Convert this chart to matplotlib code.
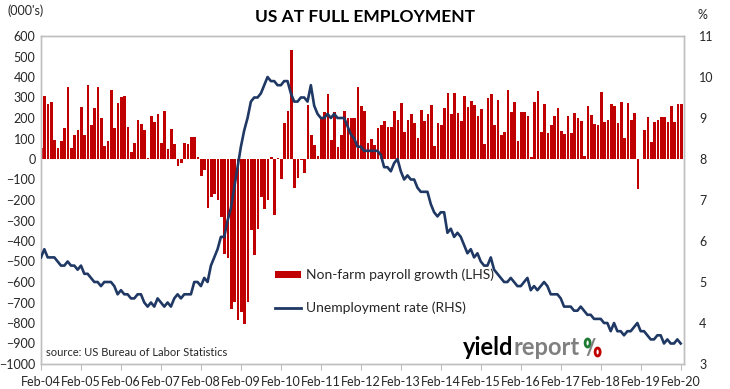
import numpy as np
import pandas as pd
import matplotlib
matplotlib.use("Agg")
import matplotlib.pyplot as plt
from matplotlib.lines import Line2D
from matplotlib.patches import Patch, Ellipse

plt.rcParams['font.family'] = ['Lato', 'DejaVu Sans']

# monthly categories, Feb-04 .. Feb-20
months = pd.date_range('2004-02-01', '2020-02-01', freq='MS')
tick_labels = [d.strftime('%b-%y') for d in months[::12]]

# non-farm payroll growth (000's)
payrolls = [
    55, 307, 268, 278, 93, 55, 88, 151, 351, 55, 117, 141,
    254, 117, 361, 166, 249, 351, 200, 63, 88, 337, 151, 273,
    302, 307, 156, 34, 78, 190, 171, 141, 5, 210, 180, 220,
    78, 234, 49, 146, 73, -34, -21, 78, 73, 107, 107, 10,
    -81, -54, -239, -184, -171, -200, -283, -463, -483, -730, -698, -785,
    -746, -805, -698, -346, -468, -341, -184, -244, -200, 10, -273, 5,
    -98, 176, 234, 532, -141, -93, -5, -68, 263, 117, 68, 15,
    205, 229, 317, 93, 229, 59, 117, 234, 200, 200, 200, 351,
    259, 234, 78, 98, 68, 151, 166, 185, 156, 156, 234, 190,
    273, 132, 190, 220, 176, 102, 239, 185, 220, 263, 63, 176,
    166, 249, 322, 220, 322, 224, 185, 307, 254, 283, 263, 210,
    244, 73, 298, 317, 166, 288, 117, 132, 337, 229, 278, 88,
    229, 229, 210, 10, 278, 332, 132, 268, 127, 166, 210, 249,
    137, 122, 210, 127, 224, 200, 185, 15, 259, 215, 171, 166,
    327, 180, 190, 268, 259, 176, 278, 102, 273, 190, 224, -146,
    1, 141, 205, 83, 180, 190, 205, 205, 180, 259, 180, 268, 268,
]

# unemployment rate (%)
unemployment = [
    5.6, 5.8, 5.6, 5.6, 5.6, 5.5, 5.4, 5.4, 5.5, 5.4, 5.4,
    5.3, 5.4, 5.2, 5.2, 5.1, 5.0, 5.0, 4.9, 5.0, 5.0, 5.0, 4.9,
    4.7, 4.8, 4.7, 4.7, 4.6, 4.6, 4.7, 4.7, 4.5, 4.4, 4.5, 4.4,
    4.6, 4.5, 4.4, 4.5, 4.4, 4.6, 4.7, 4.6, 4.7, 4.7, 4.7, 5.0,
    5.0, 4.9, 5.1, 5.0, 5.4, 5.6, 5.8, 6.1, 6.1, 6.5, 6.8, 7.3,
    7.8, 8.3, 8.7, 9.0, 9.4, 9.5, 9.5, 9.6, 9.8, 10.0, 9.9, 9.9,
    9.8, 9.8, 9.9, 9.9, 9.6, 9.4, 9.4, 9.5, 9.5, 9.4, 9.8, 9.3,
    9.1, 9.0, 9.0, 9.1, 9.0, 9.1, 9.0, 9.0, 9.0, 8.8, 8.6, 8.5,
    8.3, 8.3, 8.2, 8.2, 8.2, 8.2, 8.2, 8.1, 7.8, 7.8, 7.7, 7.9,
    8.0, 7.7, 7.5, 7.6, 7.5, 7.5, 7.3, 7.2, 7.2, 7.2, 6.9, 6.7,
    6.6, 6.7, 6.7, 6.2, 6.3, 6.1, 6.2, 6.1, 5.9, 5.7, 5.8, 5.6,
    5.7, 5.5, 5.4, 5.4, 5.6, 5.3, 5.2, 5.1, 5.0, 5.0, 5.1, 5.0,
    4.9, 4.9, 5.0, 5.1, 4.8, 4.9, 4.8, 4.9, 5.0, 4.9, 4.7, 4.7,
    4.7, 4.6, 4.4, 4.4, 4.4, 4.3, 4.3, 4.4, 4.3, 4.2, 4.2, 4.1,
    4.1, 4.1, 4.0, 4.0, 3.8, 4.0, 3.8, 3.8, 3.7, 3.8, 3.8, 3.9,
    4.0, 3.8, 3.8, 3.7, 3.6, 3.6, 3.7, 3.7, 3.5, 3.6, 3.5, 3.5,
    3.6, 3.5,
]

BAR = '#c00000'
LINE = '#1f3864'
GRID = '#d9d9d9'
SPINE = '#bfbfbf'
TXT = '#262626'

W, H = 730, 389
fig = plt.figure(figsize=(W / 100, H / 100), dpi=100)
ax = fig.add_axes([41 / W, 1 - 364 / H, (684 - 41) / W, (364 - 36) / H])
ax2 = ax.twinx()

x = np.arange(len(months))
ax.bar(x + 0.15, payrolls, width=0.8, color=BAR, zorder=2)
ax2.plot(x, unemployment, color=LINE, lw=1.9, zorder=3, solid_joinstyle='round')

ax.set_xlim(0, 193)
ax.set_ylim(-1000, 600)
ax2.set_ylim(3, 11)

ax.set_yticks(range(-1000, 700, 100))
ax.set_yticks(range(-800, 600, 200), minor=True)
ax.yaxis.grid(True, which='minor', color=GRID, lw=1, zorder=0)
ax.yaxis.grid(False, which='major')
ax.set_axisbelow(True)
ax.tick_params(axis='y', which='both', length=0, labelsize=9, colors=TXT, pad=4)

ax2.set_yticks(range(3, 12))
ax2.tick_params(axis='y', length=0, labelsize=9, colors=TXT, pad=11)

ax.set_xticks(x[::12])
ax.set_xticklabels(tick_labels)
ax.tick_params(axis='x', length=4, labelsize=9, colors=TXT, pad=5)
ax.tick_params(axis='x', color=SPINE)

for a in (ax, ax2):
    for s in a.spines.values():
        s.set_color(SPINE)
        s.set_linewidth(1)

fig.text(365 / W, 1 - 17 / H, 'US AT FULL EMPLOYMENT', ha='center', va='center',
         fontsize=12.5, fontweight='bold', color='black')
fig.text(8 / W, 1 - 11 / H, "(000's)", ha='left', va='center', fontsize=9, color=TXT)
fig.text(697 / W, 1 - 15 / H, '%', ha='left', va='center', fontsize=9, color=TXT)
fig.text(46 / W, 1 - 353 / H, 'source: US Bureau of Labor Statistics', ha='left',
         va='center', fontsize=8, color=TXT)

handles = [Patch(facecolor=BAR, edgecolor='none'), Line2D([], [], color=LINE, lw=2)]
fig.legend(handles, ['Non-farm payroll growth (LHS)', 'Unemployment rate (RHS)'],
           loc='upper left', bbox_to_anchor=(268 / W, 1 - 262 / H), frameon=False,
           fontsize=10, handlelength=1.9, handleheight=0.45, handletextpad=0.3,
           labelspacing=1.45, borderpad=0, labelcolor=TXT)

# yieldreport logo
fig.canvas.draw()
r = fig.canvas.get_renderer()
base = 1 - 355 / H
t1 = fig.text(463 / W, base, 'yield', fontsize=17, fontweight='bold', color='black', va='baseline')
x1 = t1.get_window_extent(r).x1
t2 = fig.text(x1 / W, base, 'report', fontsize=17, fontweight='bold', color='#808080', va='baseline')
x2 = t2.get_window_extent(r).x1
fig.text((x2 + 6) / W, base, '/', fontsize=16, fontweight='bold', color='#808080', va='baseline')
fig.add_artist(Ellipse(((x2 + 8) / W, 1 - 343 / H), 5 / W, 8 / H, transform=fig.transFigure,
                       facecolor='none', edgecolor='#1e7b34', lw=2))
fig.add_artist(Ellipse(((x2 + 18) / W, 1 - 352 / H), 5 / W, 8 / H, transform=fig.transFigure,
                       facecolor='none', edgecolor=BAR, lw=2))

fig.savefig('out.png', dpi=100)
